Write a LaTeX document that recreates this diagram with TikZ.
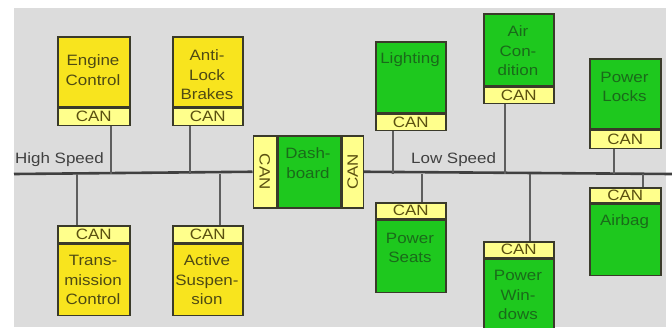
\documentclass[tikz,border=0pt]{standalone}
\usepackage{fontspec}
\setmainfont{Liberation Sans}
\newfontfamily\diagfont[FakeStretch=1.13]{Liberation Sans}
\definecolor{bggray}{HTML}{DCDCDC}
\definecolor{yfill}{HTML}{F8E41E}
\definecolor{gfill}{HTML}{1EC81E}
\definecolor{canfill}{HTML}{FFFF8C}
\definecolor{edge}{HTML}{3A3A2A}
\definecolor{ytext}{HTML}{4E4A14}
\definecolor{gtext}{HTML}{1A6A1A}
\definecolor{cantxt}{HTML}{5A5010}
\definecolor{busc}{HTML}{404040}
\definecolor{stubc}{HTML}{5E5E5E}
\tikzset{
  modbase/.style={draw=edge, line width=1.5pt, inner sep=0pt, anchor=north west, minimum height=71pt},
  ybox/.style={modbase, fill=yfill, minimum width=72pt},
  gbox/.style={modbase, fill=gfill, minimum width=71pt},
  canbar/.style={draw=edge, line width=1.5pt, fill=canfill, inner sep=0pt, minimum height=17pt,
     font=\diagfont\fontsize{15}{15}\selectfont, text=cantxt},
  ytxt/.style={align=center, inner sep=0pt, text=ytext, font=\diagfont\fontsize{15}{19.5}\selectfont},
  gtxt/.style={align=center, inner sep=0pt, text=gtext, font=\diagfont\fontsize{15}{19.5}\selectfont},
  bus/.style={draw=busc, line width=2.6pt},
  stub/.style={draw=stubc, line width=1.6pt},
  buslabel/.style={inner sep=0pt, text=black!75, font=\diagfont\fontsize{15}{15}\selectfont},
}
\begin{document}
\begin{tikzpicture}[x=1pt,y=-1pt]
\useasboundingbox (0,0) rectangle (672,327);
\clip (0,0) rectangle (672,327);
\fill[bggray] (14,8) rectangle (666,327);

% bus
\coordinate (busL) at (14,174);
\coordinate (busR) at (672,174);

% dashboard
\node[modbase, fill=gfill, minimum width=63pt, minimum height=72pt] (dash) at (277,135) {};
\node[canbar, anchor=north east, minimum width=23pt, minimum height=72pt] (dashl) at (dash.north west) {};
\node[canbar, anchor=north west, minimum width=21pt, minimum height=72pt] (dashr) at (dash.north east) {};
\node[canbar, draw=none, fill=none, rotate=-90] (dashlt) at (dashl.center) {CAN};
\node[canbar, draw=none, fill=none, rotate=90] (dashrt) at (dashr.center) {CAN};
\node[gtxt] (dasht) at (308,163) {Dash-\\board};

\draw[bus] (busL) -- (dashl.west);
\draw[bus] (dashr.east) -- (busR);

\node[buslabel, anchor=west] (hs) at (15,160) {High Speed};
\node[buslabel, anchor=west] (ls) at (411,160) {Low Speed};

% high speed, top
\node[ybox, minimum height=70pt] (eng) at (57,36) {};
\node[canbar, anchor=north, minimum width=72pt] (engcan) at (eng.south) {CAN};
\node[ytxt] (engt) at (93,70) {Engine\\Control};

\node[ybox, minimum width=70pt, minimum height=70pt] (abs) at (172,36) {};
\node[canbar, anchor=north, minimum width=70pt] (abscan) at (abs.south) {CAN};
\node[ytxt] (abst) at (207,75) {Anti-\\Lock\\Brakes};

% high speed, bottom
\node[canbar, anchor=north west, minimum width=72pt] (trcan) at (57,225) {CAN};
\node[ybox, anchor=north, minimum height=71pt] (tr) at (trcan.south) {};
\node[ytxt] (trt) at (93,280) {Trans-\\mission\\Control};

\node[canbar, anchor=north west, minimum width=70pt] (accan) at (172,225) {CAN};
\node[ybox, anchor=north, minimum width=70pt, minimum height=71pt] (ac) at (accan.south) {};
\node[ytxt] (act) at (207,280) {Active\\Suspen-\\sion};

% low speed, top
\node[gbox, minimum width=70pt, minimum height=71pt] (li) at (375,41) {};
\node[canbar, anchor=north, minimum width=70pt, minimum height=16pt] (lican) at (li.south) {CAN};
\node[gtxt] (lit) at (410,60) {Lighting};

\node[gbox, minimum width=70pt, minimum height=72pt] (air) at (483,13) {};
\node[canbar, anchor=north, minimum width=70pt, minimum height=16pt] (aircan) at (air.south) {CAN};
\node[gtxt] (airt) at (518,51) {Air\\Con-\\dition};

\node[gbox, minimum height=70pt] (pl) at (589,58) {};
\node[canbar, anchor=north, minimum width=71pt, minimum height=18pt] (plcan) at (pl.south) {CAN};
\node[gtxt] (plt) at (624.5,87) {Power\\Locks};

% low speed, bottom
\node[canbar, anchor=north west, minimum width=70pt, minimum height=16pt] (pscan) at (375,202) {CAN};
\node[gbox, anchor=north, minimum width=70pt, minimum height=72pt] (ps) at (pscan.south) {};
\node[gtxt] (pst) at (410,248) {Power\\Seats};

\node[canbar, anchor=north west, minimum width=70pt, minimum height=16pt] (pwcan) at (483,241) {CAN};
\node[gbox, anchor=north, minimum width=70pt, minimum height=74pt] (pw) at (pwcan.south) {};
\node[gtxt] (pwt) at (518,295) {Power\\Win-\\dows};

\node[canbar, anchor=north west, minimum width=71pt, minimum height=15pt] (abcan) at (589,187) {CAN};
\node[gbox, anchor=north, minimum height=71pt] (ab) at (abcan.south) {};
\node[gtxt] (abt) at (624.5,222) {Airbag};

% stubs
\draw[stub] ([xshift=17pt]engcan.south) -- ([xshift=17pt]engcan.south |- busL);
\draw[stub] ([xshift=-18pt]abscan.south) -- ([xshift=-18pt]abscan.south |- busL);
\draw[stub] ([xshift=-17pt]trcan.north) -- ([xshift=-17pt]trcan.north |- busL);
\draw[stub] ([xshift=12pt]accan.north) -- ([xshift=12pt]accan.north |- busL);
\draw[stub] ([xshift=-18pt]lican.south) -- ([xshift=-18pt]lican.south |- busL);
\draw[stub] ([xshift=-14pt]aircan.south) -- ([xshift=-14pt]aircan.south |- busL);
\draw[stub] ([xshift=-11pt]plcan.south) -- ([xshift=-11pt]plcan.south |- busL);
\draw[stub] ([xshift=11pt]pscan.north) -- ([xshift=11pt]pscan.north |- busL);
\draw[stub] ([xshift=11pt]pwcan.north) -- ([xshift=11pt]pwcan.north |- busL);
\draw[stub] ([xshift=18pt]abcan.north) -- ([xshift=18pt]abcan.north |- busL);
\end{tikzpicture}
\end{document}
